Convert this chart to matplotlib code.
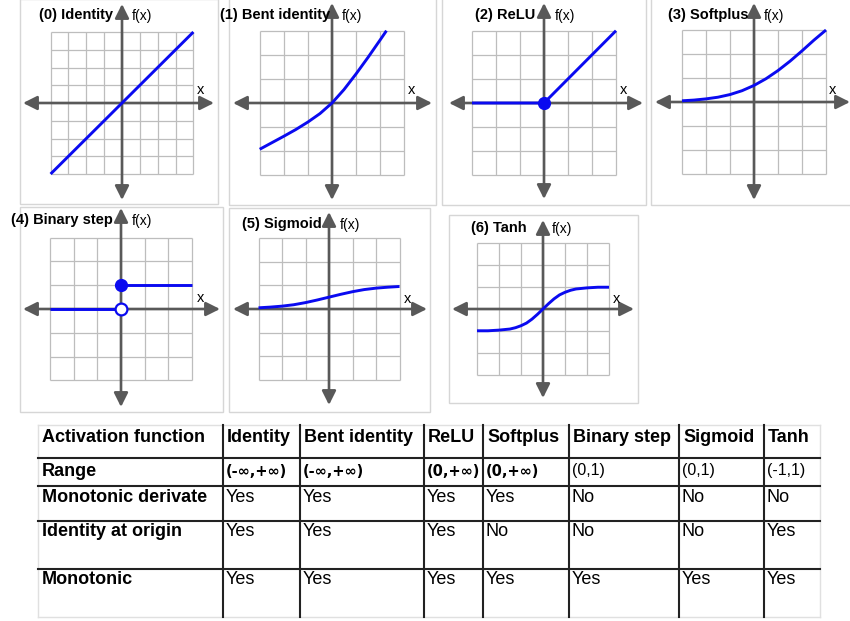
import matplotlib.pyplot as plt
from matplotlib.patches import Rectangle

plt.rcParams['font.family'] = ['Liberation Sans', 'DejaVu Sans']

# ------------------------------------------------------------------
# data (x, f(x)) for each activation function
# ------------------------------------------------------------------
identity_x = [-4, 4]
identity_y = [-4, 4]

bent_x = [-3, -2.5, -2, -1.5, -1, -0.5, 0, 0.5, 1, 1.5, 2, 2.26]
bent_y = [-1.92, -1.65, -1.38, -1.10, -0.79, -0.44, 0, 0.56, 1.21, 1.90, 2.62, 3.0]

relu_x = [-3, 0, 3]
relu_y = [0, 0, 3]

softplus_x = [-3, -2.5, -2, -1.5, -1, -0.5, 0, 0.5, 1, 1.5, 2, 2.5, 3]
softplus_y = [0.05, 0.08, 0.13, 0.20, 0.31, 0.47, 0.69, 0.97, 1.31, 1.70, 2.13, 2.58, 3.0]

step_x_low = [-3, 0]
step_y_low = [0, 0]
step_x_high = [0, 3]
step_y_high = [1, 1]

sigmoid_x = [-3, -2.5, -2, -1.5, -1, -0.5, 0, 0.5, 1, 1.5, 2, 2.5, 3]
sigmoid_y = [0.05, 0.08, 0.12, 0.18, 0.27, 0.38, 0.5, 0.62, 0.73, 0.82, 0.88, 0.92, 0.95]

tanh_x = [-3, -2.5, -2, -1.5, -1.25, -1, -0.75, -0.5, -0.25, 0,
          0.25, 0.5, 0.75, 1, 1.25, 1.5, 2, 2.5, 3]
tanh_y = [-0.99, -0.99, -0.96, -0.91, -0.85, -0.76, -0.64, -0.46, -0.24, 0,
          0.24, 0.46, 0.64, 0.76, 0.85, 0.91, 0.96, 0.99, 0.99]

# table content
table_header = ['Activation function', 'Identity', 'Bent identity', 'ReLU',
                'Softplus', 'Binary step', 'Sigmoid', 'Tanh']
row_labels = ['Range', 'Monotonic derivate', 'Identity at origin', 'Monotonic']
range_vals = ['(-\u221e,+\u221e)', '(-\u221e,+\u221e)', '(0,+\u221e)', '(0,+\u221e)',
              '(0,1)', '(0,1)', '(-1,1)']
range_bold = [True, True, True, True, False, False, False]
mono_deriv = ['Yes', 'Yes', 'Yes', 'Yes', 'No', 'No', 'No']
ident_origin = ['Yes', 'Yes', 'Yes', 'No', 'No', 'No', 'Yes']
monotonic = ['Yes', 'Yes', 'Yes', 'Yes', 'Yes', 'Yes', 'Yes']

# ------------------------------------------------------------------
W, H = 850, 621
fig = plt.figure(figsize=(W / 100, H / 100), dpi=100)
fig.patch.set_facecolor('white')

BLUE = '#0a0af0'
AXIS = '#595959'
GRID = '#bdbdbd'
FRAME = '#d6d6d6'


def fx(px):
    return px / W


def fy(py):
    return 1 - py / H


def frame(x0, y0, x1, y1):
    fig.add_artist(Rectangle((fx(x0), fy(y1)), (x1 - x0) / W, (y1 - y0) / H,
                             transform=fig.transFigure, fill=False,
                             ec=FRAME, lw=1))


def panel(ox, oy, ux, uy, x0, x1, y0, y1, n):
    # axes placed so that one data unit = one grid cell in pixels
    ax = fig.add_axes([fx(x0), fy(y1), (x1 - x0) / W, (y1 - y0) / H])
    ax.set_xlim((x0 - ox) / ux, (x1 - ox) / ux)
    ax.set_ylim((oy - y1) / uy, (oy - y0) / uy)
    ax.axis('off')
    ax.patch.set_alpha(0)
    ticks = list(range(-n, n + 1))
    ax.vlines(ticks, -n, n, color=GRID, lw=0.9, zorder=1)
    ax.hlines(ticks, -n, n, color=GRID, lw=0.9, zorder=1)
    xmin, xmax = ax.get_xlim()
    ymin, ymax = ax.get_ylim()
    arrow = dict(arrowstyle='<|-|>,head_length=0.7,head_width=0.35',
                 color=AXIS, lw=1.9, shrinkA=0, shrinkB=0, mutation_scale=12)
    ax.annotate('', xy=(xmax, 0), xytext=(xmin, 0), arrowprops=arrow,
                annotation_clip=False, zorder=2)
    ax.annotate('', xy=(0, ymax), xytext=(0, ymin), arrowprops=arrow,
                annotation_clip=False, zorder=2)
    return ax


def labels(title, tx, ty, fxx, lx, ly):
    fig.text(fx(tx), fy(ty), title, ha='right', va='center',
             fontsize=10.5, fontweight='bold')
    fig.text(fx(fxx), fy(ty + 1), 'f(x)', ha='left', va='center', fontsize=10)
    fig.text(fx(lx), fy(ly), 'x', ha='left', va='center', fontsize=10.5)


line_kw = dict(color=BLUE, lw=2.1, zorder=3, solid_capstyle='butt')

# (0) Identity
frame(20, -1, 218, 204)
ax0 = panel(122, 103, 17.85, 17.75, 23, 214, 4, 200, 4)
ax0.plot(identity_x, identity_y, **line_kw)
labels('(0) Identity', 113, 15, 132, 197, 90)

# (1) Bent identity
frame(229, -1, 436, 205)
ax1 = panel(332, 103, 24.1, 24.1, 233, 432, 3, 200, 3)
ax1.plot(bent_x, bent_y, **line_kw)
labels('(1) Bent identity', 330, 15, 342, 408, 90)

# (2) ReLU
frame(442, -1, 646, 205)
ax2 = panel(544, 103, 24.0, 24.1, 449, 643, 3, 199, 3)
ax2.plot(relu_x, relu_y, **line_kw)
ax2.plot([relu_x[1]], [relu_y[1]], 'o', color=BLUE, ms=8.5, zorder=4)
labels('(2) ReLU', 535, 15, 555, 620, 90)

# (3) Softplus
frame(651, -1, 851, 205)
ax3 = panel(754, 102, 24.0, 24.0, 655, 850, 3, 200, 3)
ax3.plot(softplus_x, softplus_y, **line_kw)
labels('(3) Softplus', 748, 15, 764, 829, 90)

# (4) Binary step
frame(20, 207, 223, 412)
ax4 = panel(121, 309, 23.7, 23.8, 23, 220, 208, 407, 3)
ax4.plot(step_x_low, step_y_low, **line_kw)
ax4.plot(step_x_high, step_y_high, **line_kw)
ax4.plot([step_x_high[0]], [step_y_high[0]], 'o', color=BLUE, ms=8.5, zorder=4)
ax4.plot([step_x_low[1]], [step_y_low[1]], 'o', mfc='white', mec=BLUE,
         mew=1.6, ms=8.5, zorder=4)
labels('(4) Binary step', 113, 220, 132, 197, 298)

# (5) Sigmoid
frame(229, 208, 430, 412)
ax5 = panel(329, 309, 23.5, 23.7, 233, 427, 212, 405, 3)
ax5.plot(sigmoid_x, sigmoid_y, **line_kw)
labels('(5) Sigmoid', 322, 224, 340, 404, 299)

# (6) Tanh
frame(449, 215, 638, 403)
ax6 = panel(543, 309, 22.0, 22.0, 452, 634, 220, 398, 3)
ax6.plot(tanh_x, tanh_y, **line_kw)
labels('(6) Tanh', 527, 228, 552, 613, 299)

# ------------------------------------------------------------------
# table
# ------------------------------------------------------------------
col_edges = [38, 223, 300, 424, 483, 569, 679, 764, 820]
row_edges = [425, 458, 486, 521, 569, 617]
row_text_y = [437, 471, 497, 532, 580]

axt = fig.add_axes([0, 0, 1, 1])
axt.set_xlim(0, W)
axt.set_ylim(H, 0)
axt.axis('off')
axt.patch.set_alpha(0)

axt.plot([col_edges[0], col_edges[-1]], [row_edges[0]] * 2, color='#e0e0e0', lw=1)
axt.plot([col_edges[0], col_edges[-1]], [row_edges[-1]] * 2, color='#e0e0e0', lw=1)
axt.plot([col_edges[0]] * 2, [row_edges[0], row_edges[-1]], color='#e0e0e0', lw=1)
axt.plot([col_edges[-1]] * 2, [row_edges[0], row_edges[-1]], color='#e0e0e0', lw=1)
for y in row_edges[1:-1]:
    axt.plot([col_edges[0], col_edges[-1]], [y, y], color='#222222', lw=1.5)
for x in col_edges[1:-1]:
    axt.plot([x, x], [row_edges[0], row_edges[-1]], color='#222222', lw=1.5)

for i, h in enumerate(table_header):
    axt.text(col_edges[i] + 4, row_text_y[0], h, ha='left', va='center',
             fontsize=13, fontweight='bold')

for r, lab in enumerate(row_labels):
    axt.text(col_edges[0] + 4, row_text_y[r + 1], lab, ha='left', va='center',
             fontsize=13, fontweight='bold')

for i, v in enumerate(range_vals):
    if range_bold[i]:
        axt.text(col_edges[i + 1] + 3, row_text_y[1], v, ha='left', va='center',
                 fontsize=10.5, fontweight='bold', family='DejaVu Sans')
    else:
        axt.text(col_edges[i + 1] + 3, row_text_y[1], v, ha='left', va='center',
                 fontsize=11.5)

for r, vals in enumerate([mono_deriv, ident_origin, monotonic]):
    for i, v in enumerate(vals):
        axt.text(col_edges[i + 1] + 3, row_text_y[r + 2], v, ha='left',
                 va='center', fontsize=13)

fig.savefig('out.png', dpi=100, facecolor='white')
